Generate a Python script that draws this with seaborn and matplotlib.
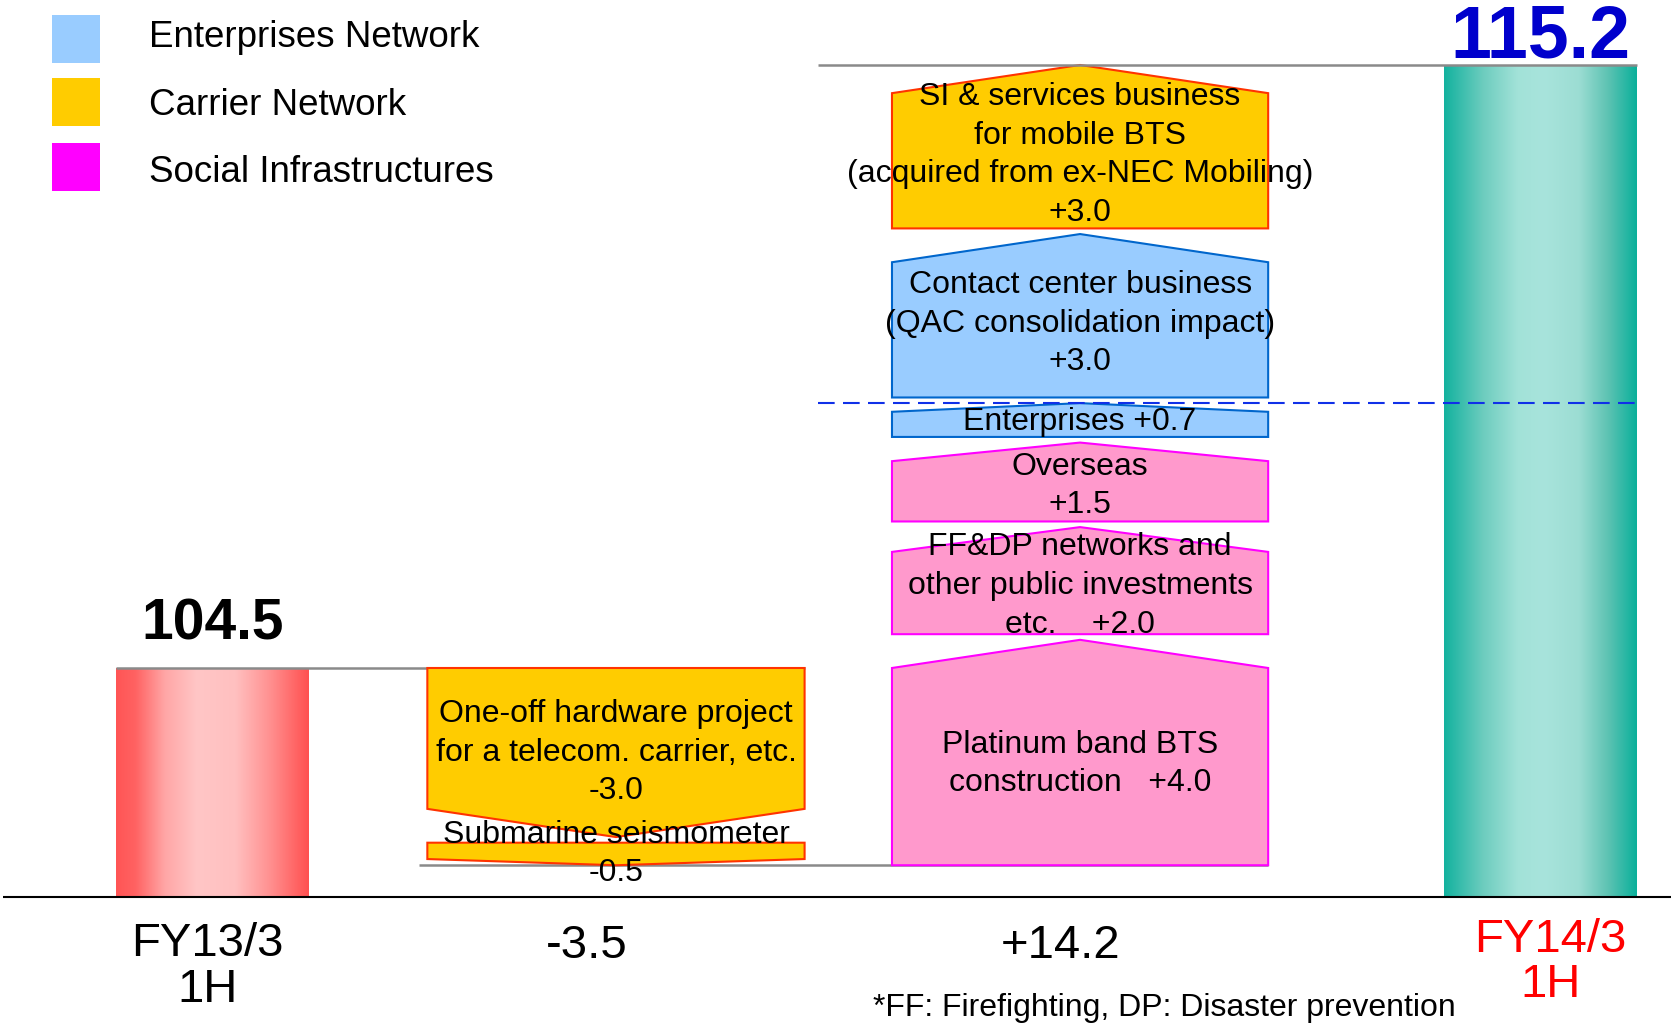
import numpy as np
import pandas as pd
import matplotlib
matplotlib.use("Agg")
import matplotlib.pyplot as plt
import seaborn as sns
from matplotlib.patches import Polygon, Rectangle
from matplotlib.colors import LinearSegmentedColormap
from matplotlib.transforms import blended_transform_factory

# ---------------- data ----------------
period_labels = ["FY13/3\n1H", "FY14/3\n1H"]
period_totals = [104.5, 115.2]

decrease_names = ["One-off hardware project\nfor a telecom. carrier, etc.\n",
                  "Submarine seismometer\n"]
decrease_values = [-3.0, -0.5]
decrease_segments = ["Carrier Network", "Carrier Network"]

increase_names = ["Platinum band BTS\nconstruction   ",
                  "FF&DP networks and\nother public investments\netc.    ",
                  "Overseas\n",
                  "Enterprises ",
                  "Contact center business\n(QAC consolidation impact)\n",
                  "SI & services business\nfor mobile BTS\n(acquired from ex-NEC Mobiling)\n"]
increase_values = [4.0, 2.0, 1.5, 0.7, 3.0, 3.0]
increase_segments = ["Social Infrastructures", "Social Infrastructures",
                     "Social Infrastructures", "Enterprises Network",
                     "Enterprises Network", "Carrier Network"]
organic_count = 4  # items below the dashed line (existing businesses)

segment_names = ["Enterprises Network", "Carrier Network", "Social Infrastructures"]
footnote = "*FF: Firefighting, DP: Disaster prevention"

# ---------------- styles ----------------
SEG_FILL = {"Enterprises Network": "#99CCFF", "Carrier Network": "#FFCC00",
            "Social Infrastructures": "#FF99CC"}
SEG_EDGE = {"Enterprises Network": "#0066CC", "Carrier Network": "#FF3300",
            "Social Infrastructures": "#FF00FF"}
SEG_KEY = {"Enterprises Network": "#99CCFF", "Carrier Network": "#FFCC00",
           "Social Infrastructures": "#FF00FF"}
GRAY = "#8A8A8A"

red_cmap = LinearSegmentedColormap.from_list(
    "red_bar", [(0.0, "#FF5555"), (0.1, "#FF6262"), (0.25, "#FFA5A5"),
                (0.42, "#FFC6C6"), (0.62, "#FFC0C0"), (0.8, "#FF9090"),
                (1.0, "#FF5050")])
teal_cmap = LinearSegmentedColormap.from_list(
    "teal_bar", [(0.0, "#13B29F"), (0.2, "#6CCCBE"), (0.38, "#A2E2D8"),
                 (0.52, "#A8E4DC"), (0.7, "#9CDDD3"), (0.85, "#5EC3B3"),
                 (1.0, "#0AB09B")])

# ---------------- layout ----------------
CANVAS_W, CANVAS_H = 1568, 961
Y_TOP, Y_BOTTOM = 116.353, 98.183
FLOOR = 100.43
BAR_X = [199.5, 1445.5]
BAR_W = 181
DEC_X = (401, 755)
INC_X = (837, 1190)
GAP = 0.1
PEAK_MAX, PEAK_FRAC = 0.5, 0.22
BOX_FONT = 23
BOX_LS = 1.37

sns.set_theme(style="white")
plt.rcParams["font.family"] = ["Liberation Sans", "DejaVu Sans"]

fig = plt.figure(figsize=(16.71, 10.24), dpi=100)
ax = fig.add_axes([0, 0, 1, 1])

# period totals as seaborn bars standing on the chart floor
bars_df = pd.DataFrame({"period": period_labels, "total": period_totals, "x": BAR_X})
bars_df["height"] = bars_df["total"] - FLOOR
sns.barplot(data=bars_df, x="x", y="height", native_scale=True,
            width=BAR_W / (BAR_X[1] - BAR_X[0]), bottom=FLOOR,
            color="#cccccc", errorbar=None, linewidth=0, ax=ax)

bar_patches = sorted(ax.patches, key=lambda p: p.get_x())
grad = np.linspace(0, 1, 256).reshape(1, -1)
for patch, cmap in zip(bar_patches, [red_cmap, teal_cmap]):
    x0, y0 = patch.get_x(), patch.get_y()
    w, h = patch.get_width(), patch.get_height()
    im = ax.imshow(grad, extent=[x0, x0 + w, y0, y0 + h], aspect="auto",
                   cmap=cmap, origin="lower", interpolation="bicubic", zorder=1)
    im.set_clip_path(patch)
    patch.set_facecolor("none")
    patch.set_edgecolor("none")

left_bar, right_bar = bar_patches
start_total, end_total = period_totals

# value labels over the totals
ax.annotate(f"{start_total:.1f}",
            xy=(left_bar.get_x() + left_bar.get_width() / 2, start_total),
            xytext=(0, 20.7), textcoords="offset points", ha="center",
            va="baseline", fontsize=41, fontweight="bold", color="black", zorder=6)
ax.annotate(f"{end_total:.1f}",
            xy=(right_bar.get_x() + right_bar.get_width() / 2, end_total),
            xytext=(0, 5.4), textcoords="offset points", ha="center",
            va="baseline", fontsize=53, fontweight="bold", color="#0000CC", zorder=6)


def box_label(x, y, text):
    ax.text(x, y, text, ha="center", va="center", fontsize=BOX_FONT,
            linespacing=BOX_LS, color="black", zorder=6)


# decreases: downward arrow boxes
level = start_total
xc_dec = sum(DEC_X) / 2
for i, (name, v, seg) in enumerate(zip(decrease_names, decrease_values, decrease_segments)):
    top = level - (GAP if i else 0)
    tip = level + v
    ph = min(PEAK_MAX, PEAK_FRAC * abs(v))
    pts = [(DEC_X[0], top), (DEC_X[1], top), (DEC_X[1], tip + ph),
           (xc_dec, tip), (DEC_X[0], tip + ph)]
    ax.add_patch(Polygon(pts, closed=True, facecolor=SEG_FILL[seg],
                         edgecolor=SEG_EDGE[seg], linewidth=1.5, zorder=3))
    box_label(xc_dec, (top + tip) / 2, f"{name}{v:.1f}")
    level = tip
low_level = level

# increases: upward arrow boxes
xc_inc = sum(INC_X) / 2
dashed_level = None
for i, (name, v, seg) in enumerate(zip(increase_names, increase_values, increase_segments)):
    bottom = level + (GAP if i else 0)
    peak = level + v
    ph = min(PEAK_MAX, PEAK_FRAC * abs(v))
    pts = [(INC_X[0], bottom), (INC_X[1], bottom), (INC_X[1], peak - ph),
           (xc_inc, peak), (INC_X[0], peak - ph)]
    ax.add_patch(Polygon(pts, closed=True, facecolor=SEG_FILL[seg],
                         edgecolor=SEG_EDGE[seg], linewidth=1.5, zorder=3))
    box_label(xc_inc, bottom + 0.45 * (peak - bottom), f"{name}{v:+.1f}")
    level = peak
    if i == organic_count - 1:
        dashed_level = level

# connector lines
ax.hlines(start_total, left_bar.get_x(), DEC_X[1], color=GRAY, linewidth=1.8, zorder=2)
ax.hlines(low_level, 393, INC_X[1], color=GRAY, linewidth=1.8, zorder=2)
ax.hlines(end_total, 768, right_bar.get_x() + right_bar.get_width(),
          color=GRAY, linewidth=1.8, zorder=4)
ax.hlines(dashed_level, 768, right_bar.get_x() + right_bar.get_width(),
          color="#1030E8", linewidth=1.5, linestyles=(0, (8, 4)), zorder=5)
ax.hlines(FLOOR, 3, CANVAS_W, color="black", linewidth=1.5, zorder=4)

# category labels under the axis line
below = blended_transform_factory(ax.transData, ax.transAxes)


def fy(py):
    return 1 - py / CANVAS_H


ax.text(195, fy(907.5), period_labels[0], transform=below, ha="center", va="center",
        fontsize=34, linespacing=1.04, color="black")
ax.text(551, fy(888), f"{sum(decrease_values):+.1f}", transform=below, ha="center",
        va="center", fontsize=34, color="black")
ax.text(995, fy(888), f"{sum(increase_values):+.1f}", transform=below, ha="center",
        va="center", fontsize=34, color="black")
ax.text(1455, fy(903), period_labels[1], transform=below, ha="center", va="center",
        fontsize=34, linespacing=1.04, color="#FF0000")
ax.text(1093, fy(946), footnote, transform=below, ha="center", va="center",
        fontsize=23, color="black")

# segment key in the top-left corner
for name, sq_mid, base in zip(segment_names, [36.5, 96, 156.5], [43.8, 107.5, 170.5]):
    ax.add_patch(Rectangle((49 / CANVAS_W, fy(sq_mid + 22.5)), 45 / CANVAS_W, 45 / CANVAS_H,
                           transform=ax.transAxes, facecolor=SEG_KEY[name],
                           edgecolor="none", zorder=5))
    ax.text(140 / CANVAS_W, fy(base), name, transform=ax.transAxes, ha="left",
            va="baseline", fontsize=26.5, color="black")

ax.set_xlim(0, CANVAS_W)
ax.set_ylim(Y_BOTTOM, Y_TOP)
ax.axis("off")

fig.savefig("out.png", dpi=100, facecolor="white")
